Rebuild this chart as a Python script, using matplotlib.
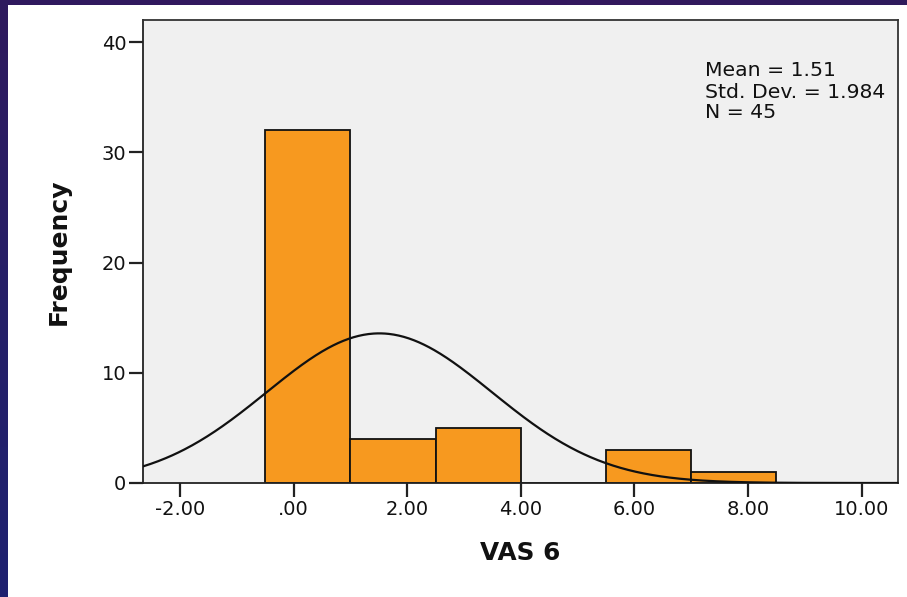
import numpy as np
import matplotlib
matplotlib.use("Agg")
import matplotlib.pyplot as plt

# ---- data ----
bin_edges = [-0.5, 1.0, 2.5, 4.0, 5.5, 7.0, 8.5]
counts = [32, 4, 5, 0, 3, 1]
mean_val = 1.51
std_val = 1.984
n_val = 45
x_ticks = [-2, 0, 2, 4, 6, 8, 10]
x_tick_labels = ["-2.00", ".00", "2.00", "4.00", "6.00", "8.00", "10.00"]
y_ticks = [0, 10, 20, 30, 40]
x_label = "VAS 6"
y_label = "Frequency"

W, H = 907, 597
fig = plt.figure(figsize=(W / 100, H / 100), dpi=100)
fig.patch.set_facecolor("white")

# slide border (top strip + left strip)
top = fig.add_axes([0, 1 - 5 / H, 1, 5 / H])
top.imshow(np.linspace(0, 1, 200)[None, :], cmap=matplotlib.colors.LinearSegmentedColormap.from_list(
    "t", ["#2f1a5e", "#35175f", "#2e1b5c"]), aspect="auto", extent=[0, 1, 0, 1])
top.axis("off")
left = fig.add_axes([0, 0, 8 / W, 1])
left.imshow(np.linspace(0, 1, 200)[:, None], cmap=matplotlib.colors.LinearSegmentedColormap.from_list(
    "l", ["#2f1a5e", "#262068", "#1f2270"]), aspect="auto", extent=[0, 1, 0, 1])
left.axis("off")

ax = fig.add_axes([143 / W, 1 - 483 / H, (898 - 143) / W, (483 - 20) / H])
ax.set_facecolor("#f0f0f0")

widths = np.diff(bin_edges)
ax.bar(bin_edges[:-1], counts, width=widths, align="edge", color="#f7991f",
       edgecolor="#111111", linewidth=1.3, zorder=2)

bw = widths[0]
xs = np.linspace(-2.65, 10.64, 600)
ys = n_val * bw * np.exp(-0.5 * ((xs - mean_val) / std_val) ** 2) / (std_val * np.sqrt(2 * np.pi))
ax.plot(xs, ys, color="#111111", linewidth=1.6, zorder=3)

ax.set_xlim(-2.65, 10.64)
ax.set_ylim(0, 42)
ax.set_xticks(x_ticks)
ax.set_xticklabels(x_tick_labels)
ax.set_yticks(y_ticks)

for s in ax.spines.values():
    s.set_color("#333333")
    s.set_linewidth(1.3)
ax.spines["left"].set_color("#222222")
ax.spines["bottom"].set_color("#222222")

ax.tick_params(axis="both", direction="out", length=10, width=1.6, color="#222222",
               labelsize=14, labelcolor="#111111", pad=2)
for lab in ax.get_xticklabels() + ax.get_yticklabels():
    lab.set_family("DejaVu Sans")

ax.set_xlabel(x_label, fontsize=17.8, fontweight="bold", family="DejaVu Sans", labelpad=16, color="#111111")
ax.set_ylabel(y_label, fontsize=18, fontweight="bold", family="DejaVu Sans", labelpad=22, color="#111111")

stats_lines = [f"Mean = {mean_val:.2f}", f"Std. Dev. = {std_val:.3f}", f"N = {n_val}"]
for i, line in enumerate(stats_lines):
    fig.text(705 / W, 1 - (71 + 21 * i) / H, line, fontsize=14.7, family="DejaVu Sans",
             ha="left", va="center", color="#111111")

fig.savefig("out.png", dpi=100, facecolor="white")
